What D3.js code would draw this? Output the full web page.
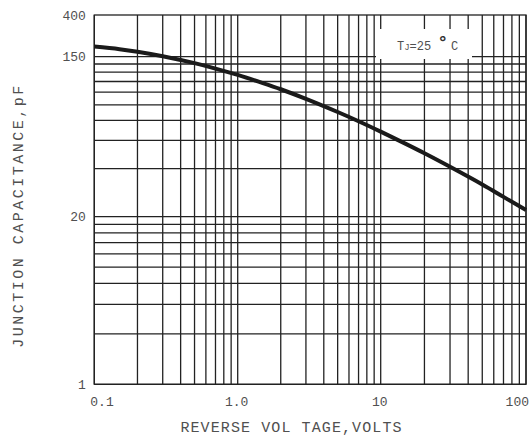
<!DOCTYPE html>
<html>
<head>
<meta charset="utf-8">
<script src="https://cdn.jsdelivr.net/npm/d3@7"></script>
<style>
  html, body { margin: 0; padding: 0; background: #fff; }
  svg { display: block; }
  text { font-family: "Liberation Mono", "DejaVu Sans Mono", monospace; fill: #505050; }
</style>
</head>
<body>
<svg id="chart" width="530" height="436"></svg>
<script>
// ---- data ----
const voltage = [0.1, 0.15, 0.2, 0.3, 0.5, 0.7, 1, 1.5, 2, 3, 5, 7, 10, 15, 20, 30, 50, 70, 100];
const capacitance = [115.4, 111.2, 107.3, 100.7, 91.1, 84.3, 76.9, 68.4, 62.6, 54.5, 45.1, 39.5, 34.0, 28.4, 24.9, 20.5, 15.9, 13.3, 11.0];

const xTickValues = [0.1, 1, 10, 100];
const xTickLabels = ["0.1", "1.0", "10", "100"];
const yTickValues = [1, 10, 100, 180];
const yTickLabels = ["1", "20", "150", "400"];

const xTitle = "REVERSE VOL TAGE,VOLTS";
const yTitle = "JUNCTION CAPACITANCE,pF";

// ---- layout ----
const svg = d3.select("#chart");
const pLeft = 94.3, pRight = 526, pTop = 15, pBottom = 384.3;

// piecewise log scales (hand-drawn datasheet grid has slightly uneven decades)
const x = d3.scaleLog()
  .domain([0.1, 1, 10, 100])
  .range([pLeft, 237.7, 380.7, pRight]);
const y = d3.scaleLog()
  .domain([1, 10, 100, 180])
  .range([pBottom, 216.7, 56.7, pTop]);

const gridColor = "#222";
const g = svg.append("g");

// vertical grid lines
g.selectAll("line.vx")
  .data(x.ticks())
  .join("line")
  .attr("class", "vx")
  .attr("x1", d => x(d)).attr("x2", d => x(d))
  .attr("y1", pTop).attr("y2", pBottom)
  .attr("stroke", gridColor).attr("stroke-width", 1.3);

// horizontal grid lines
g.selectAll("line.hy")
  .data(y.ticks())
  .join("line")
  .attr("class", "hy")
  .attr("x1", pLeft).attr("x2", pRight)
  .attr("y1", d => y(d)).attr("y2", d => y(d))
  .attr("stroke", gridColor).attr("stroke-width", 1.3);

// frame
g.append("rect")
  .attr("x", pLeft).attr("y", pTop)
  .attr("width", pRight - pLeft).attr("height", pBottom - pTop)
  .attr("fill", "none").attr("stroke", gridColor).attr("stroke-width", 1.3);

// annotation box (white background hiding grid)
const box = svg.append("g");
box.append("rect")
  .attr("x", 376).attr("y", 29)
  .attr("width", 96).attr("height", 30)
  .attr("fill", "#fff");
const tj = box.append("text")
  .attr("x", 397).attr("y", 50)
  .attr("font-size", 12);
tj.append("tspan").text("T");
tj.append("tspan").attr("font-size", 9).text("J");
tj.append("tspan").text("=25 ");
tj.append("tspan").attr("font-size", 17).attr("font-weight", "bold").attr("dy", -1).attr("font-family", "DejaVu Sans").style("fill", "#333").text("°");
tj.append("tspan").attr("dy", 1).attr("dx", 4).text("C");

// curve
const line = d3.line()
  .x((d, i) => x(voltage[i]))
  .y((d, i) => y(capacitance[i]))
  .curve(d3.curveCatmullRom);
svg.append("path")
  .datum(capacitance)
  .attr("d", line)
  .attr("fill", "none")
  .attr("stroke", "#1a1a1a")
  .attr("stroke-width", 4)
  .attr("stroke-linecap", "butt");

// x tick labels
svg.selectAll("text.xt")
  .data(xTickValues)
  .join("text")
  .attr("class", "xt")
  .attr("x", (d, i) => i === 0 ? x(d) - 4 : (i === xTickValues.length - 1 ? x(d) + 3 : x(d) - 1))
  .attr("y", 406)
  .attr("font-size", 13)
  .attr("text-anchor", (d, i) => i === 0 ? "start" : (i === xTickValues.length - 1 ? "end" : "middle"))
  .text((d, i) => xTickLabels[i]);

// y tick labels
svg.selectAll("text.yt")
  .data(yTickValues)
  .join("text")
  .attr("class", "yt")
  .attr("x", pLeft - 8.5)
  .attr("y", d => y(d) + 4.5)
  .attr("font-size", 13)
  .attr("text-anchor", "end")
  .text((d, i) => yTickLabels[i]);

// axis titles
svg.append("text")
  .attr("x", 291.5).attr("y", 431.7)
  .attr("font-size", 15)
  .attr("letter-spacing", 1.1)
  .attr("text-anchor", "middle")
  .text(xTitle);

svg.append("text")
  .attr("transform", "translate(22.5,215.5) rotate(-90)")
  .attr("font-size", 15)
  .attr("letter-spacing", 2.5)
  .attr("text-anchor", "middle")
  .text(yTitle);
</script>
</body>
</html>
